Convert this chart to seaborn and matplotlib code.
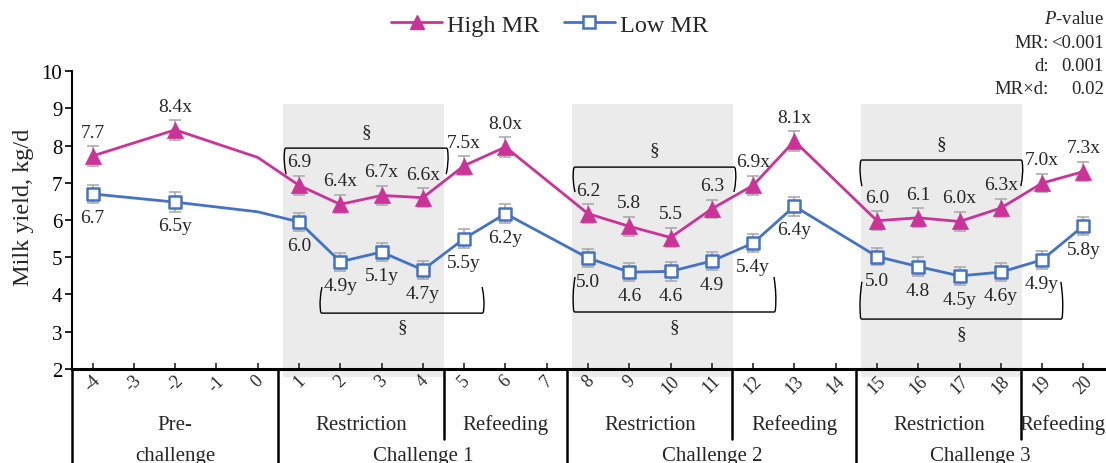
import numpy as np
import pandas as pd
import seaborn as sns
import matplotlib.pyplot as plt
from matplotlib.lines import Line2D
from matplotlib.path import Path
from matplotlib.patches import PathPatch

sns.set_style("ticks")
plt.rcParams["font.family"] = ["Liberation Serif", "DejaVu Serif"]
plt.rcParams["mathtext.fontset"] = "custom"
plt.rcParams["mathtext.rm"] = "Liberation Serif"
plt.rcParams["mathtext.it"] = "Liberation Serif:italic"

# data (day 0 is only a line vertex, no marker / label)
days = list(range(-4, 21))
point_days = [-4, -2, 0, 1, 2, 3, 4, 5, 6, 8, 9, 10, 11, 12, 13, 15, 16, 17, 18, 19, 20]
high_vals = [7.72, 8.42, 7.68, 6.93, 6.42, 6.66, 6.60, 7.46, 7.96, 6.17, 5.83, 5.53, 6.30,
             6.93, 8.12, 5.98, 6.06, 5.96, 6.32, 6.99, 7.30]
low_vals = [6.70, 6.48, 6.22, 5.95, 4.88, 5.14, 4.66, 5.50, 6.17, 4.98, 4.60, 4.62, 4.90,
            5.38, 6.37, 5.02, 4.75, 4.50, 4.60, 4.93, 5.84]
high_se = [0.26, 0.26, 0, 0.25, 0.24, 0.25, 0.25, 0.26, 0.26, 0.25, 0.26, 0.25, 0.25,
           0.26, 0.26, 0.25, 0.25, 0.26, 0.25, 0.25, 0.26]
low_se = [0.25, 0.26, 0, 0.25, 0.24, 0.24, 0.24, 0.25, 0.25, 0.24, 0.25, 0.25, 0.25,
          0.25, 0.25, 0.24, 0.25, 0.25, 0.24, 0.24, 0.25]
high_labels = ["7.7", "8.4x", "", "6.9", "6.4x", "6.7x", "6.6x", "7.5x", "8.0x", "6.2", "5.8",
               "5.5", "6.3", "6.9x", "8.1x", "6.0", "6.1", "6.0x", "6.3x", "7.0x", "7.3x"]
low_labels = ["6.7", "6.5y", "", "6.0", "4.9y", "5.1y", "4.7y", "5.5y", "6.2y", "5.0", "4.6",
              "4.6", "4.9", "5.4y", "6.4y", "5.0", "4.8", "4.5y", "4.6y", "4.9y", "5.8y"]

phases = ["Restriction", "Refeeding", "Restriction", "Refeeding", "Restriction", "Refeeding"]
phase_days = [(1, 4), (5, 7), (8, 11), (12, 14), (15, 18), (19, 20)]
challenges = ["Pre-\nchallenge", "Challenge 1", "Challenge 2", "Challenge 3"]
challenge_days = [(-4, 0), (1, 7), (8, 14), (15, 20)]

mag = "#CC3399"
blue = "#4472C4"

df = pd.concat([
    pd.DataFrame({"day": point_days, "value": high_vals, "se": high_se,
                  "label": high_labels, "group": "High MR"}),
    pd.DataFrame({"day": point_days, "value": low_vals, "se": low_se,
                  "label": low_labels, "group": "Low MR"}),
])

fig = plt.figure(figsize=(11.06, 4.64), dpi=100)
ax = fig.add_axes([0.0651, 0.2026, 0.9331, 0.6422])

# shaded restriction periods
for i in (0, 2, 4):
    a, b = phase_days[i]
    ax.axvspan(a - 0.38, b + 0.52, ymin=-0.027, ymax=0.889, color="#EBEBEB",
               zorder=0, lw=0, clip_on=False)

sns.lineplot(data=df, x="day", y="value", hue="group", palette={"High MR": mag, "Low MR": blue},
             linewidth=2, legend=False, errorbar=None, ax=ax, zorder=3)

pts = df[df["label"] != ""]
for g, col in (("High MR", mag), ("Low MR", blue)):
    d = pts[pts["group"] == g]
    ax.errorbar(d["day"], d["value"], yerr=d["se"], fmt="none", ecolor="#A6A6A6",
                elinewidth=1.1, capsize=4.5, capthick=1.1, zorder=2)
    if g == "High MR":
        sns.scatterplot(x=d["day"], y=d["value"], marker="^", s=135, color=mag,
                        edgecolor=mag, linewidth=0.5, ax=ax, zorder=4)
        off = 17
    else:
        sns.scatterplot(x=d["day"], y=d["value"], marker="s", s=75, color="white",
                        edgecolor=blue, linewidth=1.8, ax=ax, zorder=4)
        off = -17
    for x, y, t in zip(d["day"], d["value"], d["label"]):
        ax.annotate(t, (x, y), xytext=(0, off), textcoords="offset points",
                    ha="center", va="center", fontsize=14, zorder=5)

# significance brackets (§) with slightly curved ends
brackets = [  # x0, x1, y_bar, y_end, y_sym
    (0.65, 4.6, 7.93, 7.23, 8.36), (1.52, 5.47, 3.50, 4.20, 3.13),
    (7.65, 11.57, 7.42, 6.75, 7.90), (7.65, 12.54, 3.53, 4.47, 3.13),
    (14.6, 18.52, 7.61, 6.91, 8.04), (14.6, 19.49, 3.34, 4.34, 2.94),
]
for x0, x1, yb, ye, ys in brackets:
    dx = 0.035
    dy = 0.07 * np.sign(ye - yb)
    verts = [(x0 + dx, ye), (x0 - dx, (ye + yb) / 2), (x0, yb + dy),
             (x0, yb), (x0 + dx, yb),
             (x1 - dx, yb),
             (x1, yb), (x1, yb + dy),
             (x1 + dx, (ye + yb) / 2), (x1 - dx, ye)]
    codes = [Path.MOVETO, Path.CURVE3, Path.CURVE3, Path.CURVE3, Path.CURVE3,
             Path.LINETO, Path.CURVE3, Path.CURVE3, Path.CURVE3, Path.CURVE3]
    ax.add_patch(PathPatch(Path(verts, codes), fill=False, edgecolor="black", lw=1, zorder=3))
    ax.text((x0 + x1) / 2, ys, "§", ha="center", va="center", fontsize=14)

ax.set_xlim(-4.5, 20.5)
ax.set_ylim(2, 10)
ax.set_xticks(days)
ax.set_xticklabels([str(d) for d in days], rotation=45, ha="center", fontsize=13)
ax.set_yticks(range(2, 11))
ax.tick_params(axis="y", labelsize=15, direction="out", length=5, width=1.2, colors="black", pad=2)
ax.tick_params(axis="x", direction="in", length=4, width=1.2, pad=2)
ax.set_xlabel("")
ax.set_ylabel("Milk yield, kg/d", fontsize=17.5)
ax.yaxis.set_label_coords(-0.037, 0.547)
sns.despine(ax=ax)
ax.spines["left"].set_linewidth(1.5)
ax.spines["bottom"].set_linewidth(2.2)
for s in ("left", "bottom"):
    ax.spines[s].set_color("black")

# grouping lines and labels below the axis
trans = ax.get_xaxis_transform()
for a, b in challenge_days:
    ax.plot([a - 0.5, a - 0.5], [0, -0.32], transform=trans, color="black", lw=1.8, clip_on=False)
for a, b in phase_days[::2]:
    ax.plot([b + 0.5, b + 0.5], [0, -0.235], transform=trans, color="black", lw=1.8, clip_on=False)
for name, (a, b) in zip(phases, phase_days):
    ax.text((a + b) / 2, -0.185, name, transform=trans, ha="center", va="center", fontsize=15)
ax.text(-2, -0.185, "Pre-", transform=trans, ha="center", va="center", fontsize=15)
ax.text(-2, -0.29, "challenge", transform=trans, ha="center", va="center", fontsize=15)
for name, (a, b) in zip(challenges[1:], challenge_days[1:]):
    ax.text((a + b) / 2, -0.29, name, transform=trans, ha="center", va="center", fontsize=15)

handles = [Line2D([], [], color=mag, lw=2, marker="^", markersize=10),
           Line2D([], [], color=blue, lw=2, marker="s", markersize=8,
                  markerfacecolor="white", markeredgewidth=1.8)]
fig.legend(handles, ["High MR", "Low MR"], loc="center", bbox_to_anchor=(0.497, 0.944),
           ncol=2, frameon=False, fontsize=17.5, handlelength=2.1, columnspacing=1.0,
           handletextpad=0.2)

fs = 13.5
fig.text(0.998, 1 - 20 / 464, "$\\it{P}$-value", ha="right", va="center", fontsize=fs)
for row, (k, v) in enumerate([("MR:", "<0.001"), ("d:", "0.001"), ("MR×d:", "0.02")]):
    y = 1 - (43 + 23.5 * row) / 464
    fig.text(1049 / 1106, y, k, ha="right", va="center", fontsize=fs)
    fig.text(0.998, y, v, ha="right", va="center", fontsize=fs)

fig.savefig("out.png", dpi=100)
